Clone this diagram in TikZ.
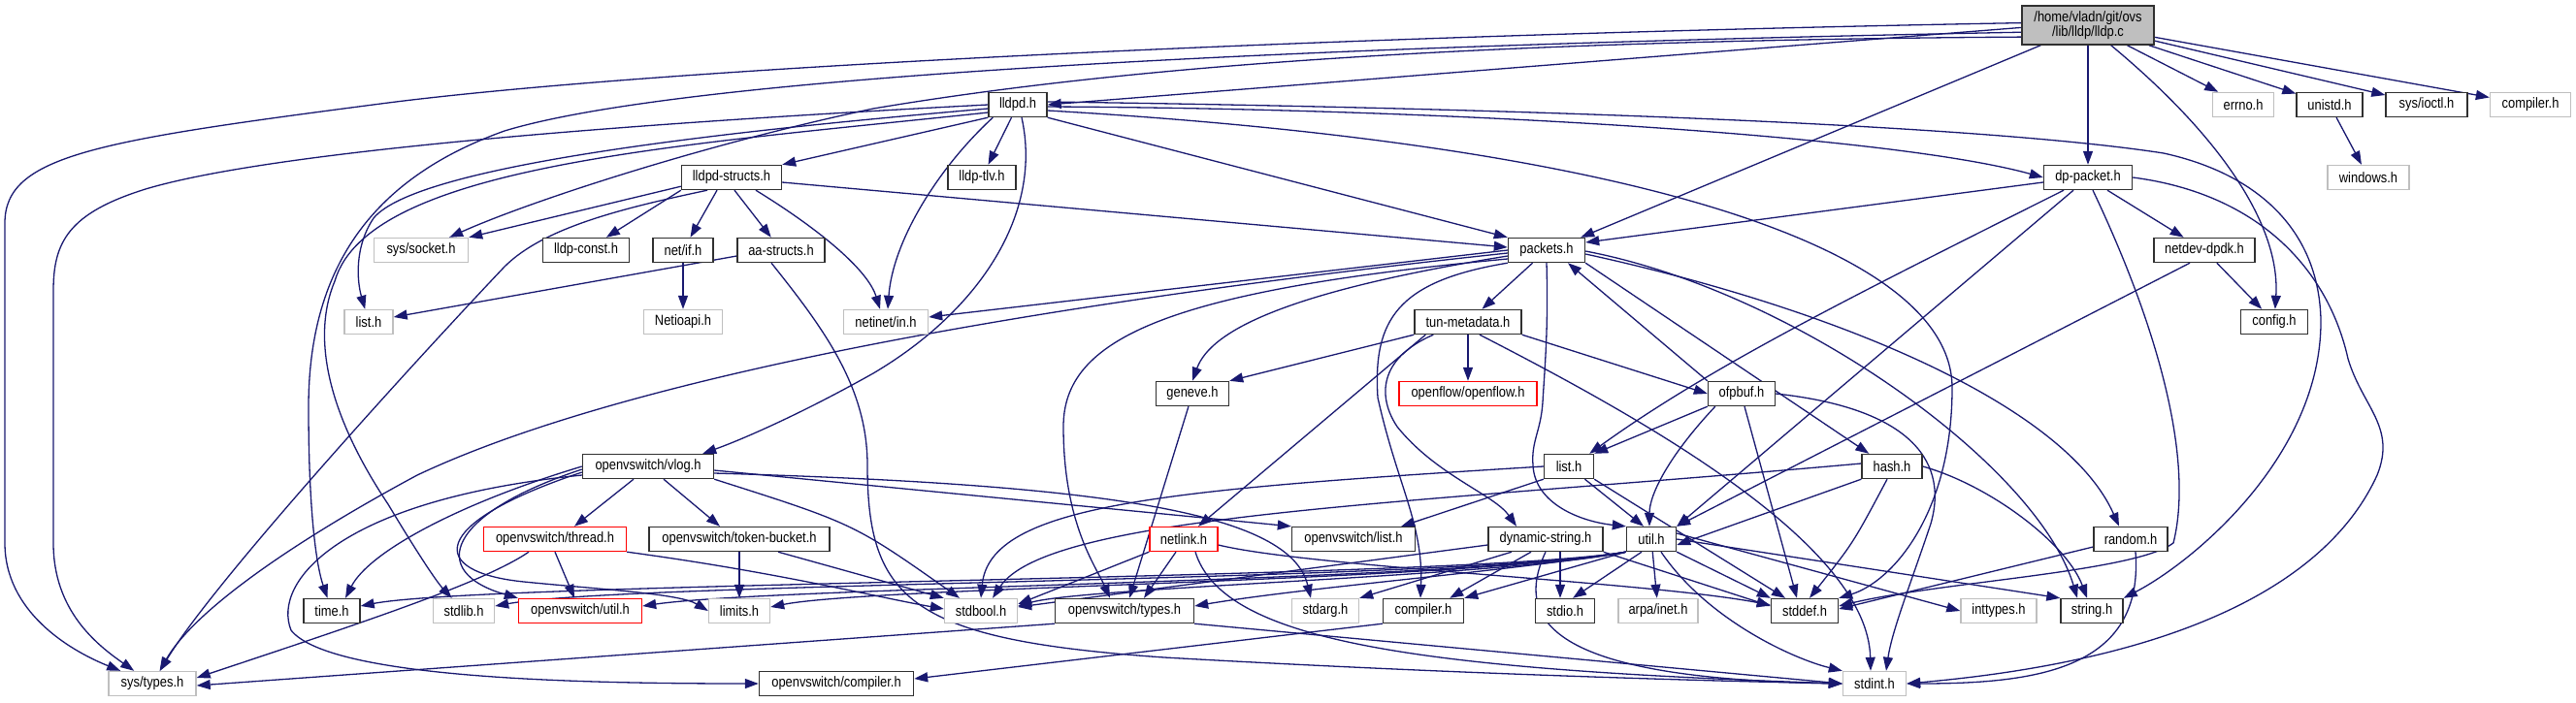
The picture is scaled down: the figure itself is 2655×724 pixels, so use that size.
\documentclass[tikz,border=0pt]{standalone}
\usepackage{fontspec}
\newfontfamily\nfam[FakeStretch=0.86]{Liberation Sans}
\usetikzlibrary{arrows.meta}
\definecolor{ec}{HTML}{191970}
\definecolor{gb}{HTML}{BFBFBF}
\definecolor{bd}{HTML}{303030}
\pgfdeclarelayer{edges}
\pgfsetlayers{edges,main}
\newcommand\nd[6]{\node[#1,minimum width=#2pt] (#3) at (#4,#5) {#6};}
\begin{document}
\begin{tikzpicture}[x=1pt,y=-1pt,
  nb/.style={draw=bd,line width=1.4pt,fill=white,minimum height=25pt,inner sep=0pt,font=\nfam\fontsize{15}{15.5}\selectfont},
  ng/.style={nb,draw=gb},
  nr/.style={nb,draw=red},
  ed/.style={draw=ec,line width=1.3pt,-{Triangle[length=14pt,width=10pt]}},
]
\useasboundingbox (0,0) rectangle (2655,724);
\node[nb,fill=gb,minimum width=136pt,minimum height=40pt,align=center,font=\nfam\fontsize{15}{15.5}\selectfont] (lldpc) at (2152,26) {/home/vladn/git/ovs\\/lib/lldp/lldp.c};
\nd{nb}{60}{lldpd}{1049}{108}{lldpd.h}
\nd{ng}{63}{errno}{2312}{108}{errno.h}
\nd{nb}{68}{unistd}{2401}{108}{unistd.h}
\nd{nb}{84}{sysioctl}{2501}{108}{sys/ioctl.h}
\nd{ng}{83}{compilerG}{2608}{108}{compiler.h}
\nd{nb}{103}{lldpdstructs}{754}{183}{lldpd-structs.h}
\nd{nb}{70}{lldptlv}{1012}{183}{lldp-tlv.h}
\nd{nb}{91}{dppacket}{2152}{183}{dp-packet.h}
\nd{ng}{84}{windows}{2441}{183}{windows.h}
\nd{ng}{97}{syssocket}{434}{258}{sys/socket.h}
\nd{nb}{89}{lldpconst}{604}{258}{lldp-const.h}
\nd{nb}{62}{netif}{704}{258}{net/if.h}
\nd{nb}{90}{aastructs}{805}{258}{aa-structs.h}
\nd{nb}{79}{packets}{1594}{258}{packets.h}
\nd{nb}{104}{netdevdpdk}{2272}{258}{netdev-dpdk.h}
\nd{ng}{50}{listG}{380}{332}{list.h}
\nd{ng}{81}{Netioapi}{704}{332}{Netioapi.h}
\nd{ng}{87}{netinetin}{913}{332}{netinet/in.h}
\nd{nb}{110}{tunmeta}{1513}{332}{tun-metadata.h}
\nd{nb}{69}{config}{2344}{332}{config.h}
\nd{nb}{75}{geneve}{1229}{406}{geneve.h}
\nd{nr}{142}{openflow}{1513}{406}{openflow/openflow.h}
\nd{nb}{69}{ofpbuf}{1795}{406}{ofpbuf.h}
\nd{nb}{135}{vlog}{668}{481}{openvswitch/vlog.h}
\nd{nb}{51}{list}{1617}{481}{list.h}
\nd{nb}{62}{hash}{1950}{481}{hash.h}
\nd{nr}{147}{thread}{572}{556}{openvswitch/thread.h}
\nd{nb}{186}{tokenbucket}{762}{556}{openvswitch/token-bucket.h}
\nd{nr}{70}{netlink}{1220}{556}{netlink.h}
\nd{nb}{127}{ovslist}{1395}{556}{openvswitch/list.h}
\nd{nb}{118}{dynstr}{1593}{556}{dynamic-string.h}
\nd{nb}{51}{util}{1702}{556}{util.h}
\nd{nb}{76}{random}{2196}{556}{random.h}
\nd{nb}{58}{time}{342}{630}{time.h}
\nd{ng}{63}{stdlib}{478}{630}{stdlib.h}
\nd{nr}{127}{ovsutil}{598}{630}{openvswitch/util.h}
\nd{ng}{63}{limits}{762}{630}{limits.h}
\nd{ng}{75}{stdbool}{1011}{630}{stdbool.h}
\nd{nb}{143}{ovstypes}{1159}{630}{openvswitch/types.h}
\nd{ng}{69}{stdarg}{1366}{630}{stdarg.h}
\nd{nb}{83}{compilerB}{1467}{630}{compiler.h}
\nd{nb}{61}{stdio}{1613}{630}{stdio.h}
\nd{ng}{82}{arpainet}{1709}{630}{arpa/inet.h}
\nd{nb}{69}{stddef}{1860}{630}{stddef.h}
\nd{ng}{78}{inttypes}{2060}{630}{inttypes.h}
\nd{nb}{64}{string}{2156}{630}{string.h}
\nd{ng}{90}{systypes}{157}{705}{sys/types.h}
\nd{nb}{159}{ovscompiler}{862}{705}{openvswitch/compiler.h}
\nd{ng}{65}{stdint}{1932}{705}{stdint.h}

\begin{pgfonlayer}{edges}
% lldp.c
\draw[ed] (lldpc.178) .. controls (1400,36) and (700,68) .. (400,106) .. controls (100,145) and (5,160) .. (5,230) -- (5,560) .. controls (5,630) and (70,670) .. (systypes);
\draw[ed] (lldpc.182) -- (lldpd.east);
\draw[ed] (lldpc.186) .. controls (1300,48) and (700,80) .. (520,135) .. controls (380,185) and (318,280) .. (318,420) .. controls (318,520) and (325,580) .. (time);
\draw[ed] (lldpc.190) .. controls (1500,42) and (1150,70) .. (900,112) .. controls (720,150) and (540,210) .. (syssocket);
\draw[ed] ([xshift=20pt]lldpc.south west) -- ([xshift=-5pt]packets.north east);
\draw[ed] (lldpc) -- (dppacket);
\draw[ed] ([xshift=-45pt]lldpc.south east) .. controls (2300,150) and (2350,240) .. (config);
\draw[ed] (lldpc) -- (errno);
\draw[ed] (lldpc) -- (unistd);
\draw[ed] (lldpc) -- (sysioctl);
\draw[ed] (lldpc) -- (compilerG);
\draw[ed] (unistd) -- (windows);
% lldpd.h
\draw[ed] (lldpd.south west) -- (lldpdstructs.north east);
\draw[ed] (lldpd) -- (lldptlv);
\draw[ed] ([xshift=5pt]lldpd.south west) .. controls (965,175) and (920,250) .. ([xshift=2pt]netinetin.north);
\draw[ed] ([xshift=4pt]lldpd.south) .. controls (1075,220) and (1010,320) .. (900,385) .. controls (820,430) and (760,455) .. ([xshift=-12pt]vlog.north east);
\draw[ed] (lldpd.south east) -- (packets.north west);
\draw[ed] ([yshift=-2pt]lldpd.east) .. controls (1500,112) and (1950,140) .. (dppacket.west);
\draw[ed] ([yshift=3pt]lldpd.east) .. controls (1600,112) and (2050,130) .. (2230,158) .. controls (2330,180) and (2390,240) .. (2392,330) .. controls (2393,470) and (2260,580) .. (string.north east);
\draw[ed] ([yshift=-6pt]lldpd.east) .. controls (1700,150) and (2012,260) .. (2012,400) .. controls (2012,530) and (1950,600) .. (stddef.north east);
\draw[ed] (lldpd.west) .. controls (750,122) and (300,150) .. (150,195) .. controls (70,220) and (55,250) .. (55,300) -- (55,560) .. controls (55,630) and (100,665) .. (systypes);
\draw[ed] ([yshift=-4pt]lldpd.west) .. controls (750,135) and (430,170) .. (385,225) .. controls (365,255) and (368,290) .. (listG);
\draw[ed] ([yshift=-8pt]lldpd.west) .. controls (700,150) and (380,170) .. (345,290) .. controls (320,350) and (340,430) .. (400,520) .. controls (430,570) and (450,600) .. (stdlib);
% lldpd-structs.h
\draw[ed] (lldpdstructs.190) -- (syssocket.north east);
\draw[ed] (lldpdstructs.south west) -- (lldpconst);
\draw[ed] ([xshift=-25pt]lldpdstructs.south) .. controls (640,215) and (560,235) .. (520,275) .. controls (430,370) and (220,600) .. (systypes);
\draw[ed] ([xshift=-15pt]lldpdstructs.south) -- (netif);
\draw[ed] ([xshift=3pt]lldpdstructs.south) -- (aastructs);
\draw[ed] ([xshift=25pt]lldpdstructs.south) .. controls (850,240) and (895,280) .. ([xshift=-6pt]netinetin.north);
\draw[ed] ([yshift=-5pt]lldpdstructs.east) -- ([yshift=3pt]packets.west);
% net/if.h, aa-structs.h
\draw[ed] (netif) -- (Netioapi);
\draw[ed] ([yshift=-6pt]aastructs.west) -- ([yshift=5pt]listG.east);
\draw[ed] ([xshift=-10pt]aastructs.south) .. controls (850,340) and (894,400) .. (894,480) .. controls (894,620) and (940,660) .. (1200,678) .. controls (1500,695) and (1750,702) .. (stdint.west);
% packets.h
\draw[ed] (packets.west) -- ([yshift=5pt]netinetin.east);
\draw[ed] ([yshift=-3pt]packets.west) .. controls (1000,320) and (620,400) .. (430,490) .. controls (300,560) and (200,630) .. (systypes);
\draw[ed] ([yshift=-6pt]packets.west) .. controls (1330,300) and (1248,340) .. (geneve.north);
\draw[ed] ([yshift=-9pt]packets.west) .. controls (1200,300) and (1096,350) .. (1096,440) .. controls (1096,540) and (1130,585) .. ([xshift=-15pt]ovstypes.north);
\draw[ed] (packets.south west) .. controls (1440,290) and (1415,330) .. (1420,410) .. controls (1440,500) and (1467,540) .. ([xshift=-3pt]compilerB.north);
\draw[ed] (packets) -- (tunmeta);
\draw[ed] (packets.south) .. controls (1596,340) and (1592,380) .. (1590,415) .. controls (1588,445) and (1578,455) .. (1580,480) .. controls (1582,520) and (1630,538) .. (util.north west);
\draw[ed] (packets.south east) -- ([xshift=8pt]hash.north west);
\draw[ed] ([yshift=-4pt]packets.east) .. controls (1900,320) and (2130,420) .. ([xshift=-12pt]random.north);
\draw[ed] ([yshift=-1pt]packets.east) .. controls (1850,300) and (2100,480) .. ([xshift=-15pt]string.north);
% tun-metadata.h
\draw[ed] (tunmeta.south west) -- (geneve.north east);
\draw[ed] ([xshift=12pt]tunmeta.south west) -- ([xshift=15pt]netlink.north);
\draw[ed] ([xshift=20pt]tunmeta.south west) .. controls (1420,370) and (1420,410) .. (1440,440) .. controls (1480,490) and (1540,510) .. ([xshift=-30pt]dynstr.north);
\draw[ed] (tunmeta) -- (openflow);
\draw[ed] (tunmeta.south east) -- (ofpbuf.west);
\draw[ed] ([xshift=12pt]tunmeta.south) .. controls (1690,430) and (1925,560) .. ([xshift=-4pt]stdint.north);
% geneve.h
\draw[ed] (geneve) -- ([xshift=5pt]ovstypes.north);
% ofpbuf.h
\draw[ed] (ofpbuf.north west) -- ([xshift=22pt]packets.south);
\draw[ed] ([xshift=-25pt]dppacket.south) .. controls (1900,310) and (1760,380) .. ([xshift=-5pt]list.north east);
\draw[ed] (ofpbuf.south west) -- (list.north east);
\draw[ed] ([xshift=8pt]ofpbuf.south west) .. controls (1720,470) and (1700,510) .. ([xshift=-2pt]util.north);
\draw[ed] ([xshift=3pt]ofpbuf.south) -- ([xshift=-8pt]stddef.north);
\draw[ed] (ofpbuf.east) .. controls (1960,420) and (2010,470) .. (1990,540) .. controls (1970,600) and (1950,650) .. ([xshift=12pt]stdint.north);
% list.h
\draw[ed] (list.south west) -- ([xshift=-15pt]ovslist.north east);
\draw[ed] (list) -- ([xshift=-8pt]util.north);
\draw[ed] (list.south east) -- ([xshift=-20pt]stddef.north);
\draw[ed] (list.west) .. controls (1200,505) and (1020,520) .. (stdbool.north);
% hash.h
\draw[ed] (hash.south west) -- ([yshift=-6pt]util.east);
\draw[ed] ([xshift=-5pt]hash.south) .. controls (1910,560) .. ([xshift=5pt]stddef.north);
\draw[ed] (hash.east) .. controls (2050,500) and (2130,560) .. ([xshift=-5pt]string.north);
\draw[ed] ([yshift=3pt]hash.west) .. controls (1450,520) and (1080,530) .. ([xshift=12pt]stdbool.north);
% netdev-dpdk.h, dp-packet.h
\draw[ed] (netdevdpdk) -- (config);
\draw[ed] ([xshift=-15pt]netdevdpdk.south) -- (util.north east);
\draw[ed] ([xshift=-15pt]dppacket.south) -- (util.north east);
\draw[ed] ([xshift=5pt]dppacket.south) .. controls (2230,350) and (2260,480) .. (2240,560) .. controls (2200,590) and (2000,600) .. ([yshift=5pt]stddef.east);
\draw[ed] (dppacket.east) .. controls (2330,200) and (2400,280) .. (2420,370) .. controls (2435,420) and (2470,440) .. (2450,490) .. controls (2400,600) and (2250,680) .. (stdint.east);
\draw[ed] ([yshift=-5pt]dppacket.west) -- ([yshift=8pt]packets.east);
\draw[ed] ([xshift=20pt]dppacket.south) -- (netdevdpdk);
% util.h
\draw[ed] (util.south west) -- (compilerB.north east);
\draw[ed] ([xshift=-10pt]util.south) -- ([xshift=8pt]stdio.north);
\draw[ed] (util) -- (arpainet);
\draw[ed] (util.south east) -- (stddef.north west);
\draw[ed] ([xshift=10pt]util.south) .. controls (1760,640) and (1850,680) .. (stdint.north west);
\draw[ed] ([yshift=6pt]util.east) -- (inttypes.west);
\draw[ed] (util.east) -- (string.north west);
\draw[ed] (util.south west) .. controls (1550,590) and (1350,605) .. ([yshift=5pt]ovstypes.east);
\draw[ed] (util.south west) .. controls (1550,595) and (1120,605) .. ([yshift=5pt]stdbool.east);
\draw[ed] (util.south west) .. controls (1500,600) and (900,605) .. ([yshift=4pt]limits.east);
\draw[ed] (util.south west) .. controls (1500,600) and (800,605) .. ([yshift=5pt]ovsutil.east);
\draw[ed] (util.south west) .. controls (1500,600) and (650,600) .. ([yshift=5pt]stdlib.east);
\draw[ed] (util.south west) .. controls (1500,598) and (500,600) .. ([yshift=5pt]time.east);
% dynamic-string.h
\draw[ed] ([xshift=-35pt]dynstr.south) -- (stdarg.north east);
\draw[ed] ([xshift=-15pt]dynstr.south) -- ([xshift=-15pt]compilerB.north east);
\draw[ed] ([xshift=15pt]dynstr.south) -- ([xshift=-5pt]stdio.north);
\draw[ed] (dynstr.south) .. controls (1555,650) and (1620,700) .. (stdint.west);
\draw[ed] (dynstr.south east) -- ([yshift=5pt]stddef.west);
\draw[ed] ([yshift=-6pt]dynstr.west) -- ([yshift=4pt]stdbool.east);
% netlink.h
\draw[ed] (netlink.south west) -- ([yshift=7pt]stdbool.east);
\draw[ed] ([xshift=-8pt]netlink.south) -- ([xshift=20pt]ovstypes.north);
\draw[ed] ([xshift=12pt]netlink.south) .. controls (1260,660) and (1450,690) .. (stdint.west);
\draw[ed] ([yshift=-6pt]netlink.east) .. controls (1350,585) and (1700,600) .. ([yshift=6pt]stddef.west);
% vlog.h
\draw[ed] ([xshift=-15pt]vlog.south) -- ([xshift=20pt]thread.north);
\draw[ed] ([xshift=16pt]vlog.south) -- ([xshift=-20pt]tokenbucket.north);
\draw[ed] (vlog.south east) .. controls (880,540) .. ([xshift=-22pt]stdbool.north);
\draw[ed] ([yshift=-4pt]vlog.east) -- (ovslist.north west);
\draw[ed] ([yshift=-7pt]vlog.east) .. controls (1150,500) and (1330,530) .. ([xshift=-15pt]stdarg.north);
\draw[ed] (vlog.west) .. controls (470,520) and (380,570) .. ([xshift=14pt]time.north);
\draw[ed] ([yshift=-3pt]vlog.west) .. controls (460,530) and (440,590) .. (ovsutil.north west);
\draw[ed] ([yshift=-6pt]vlog.west) .. controls (440,540) and (440,590) .. (540,600) .. controls (620,608) and (700,612) .. (limits.west);
\draw[ed] ([yshift=-9pt]vlog.west) .. controls (350,515) and (280,600) .. (300,650) .. controls (340,700) and (600,705) .. (ovscompiler.west);
% thread.h, token-bucket.h
\draw[ed] (thread.south) -- ([xshift=-6pt]ovsutil.north);
\draw[ed] ([xshift=-27pt]thread.south) .. controls (500,600) and (380,640) .. ([yshift=6pt]systypes.east);
\draw[ed] (thread.south east) .. controls (800,590) and (900,615) .. ([yshift=2pt]stdbool.west);
\draw[ed] (tokenbucket) -- (limits);
\draw[ed] ([xshift=40pt]tokenbucket.south) -- (stdbool.north west);
% others
\draw[ed] (ovstypes.south west) -- ([yshift=-2pt]systypes.east);
\draw[ed] (ovstypes.south east) -- (stdint.west);
\draw[ed] (compilerB.south west) -- ([yshift=5pt]ovscompiler.east);
\draw[ed] ([yshift=-8pt]random.west) -- ([yshift=2pt]stddef.east);
\draw[ed] ([xshift=5pt]random.south) .. controls (2210,690) and (2100,705) .. (stdint.east);
\end{pgfonlayer}
\end{tikzpicture}
\end{document}
